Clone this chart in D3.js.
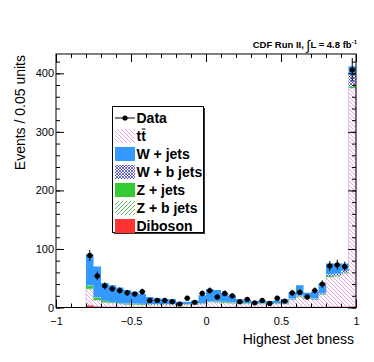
<!DOCTYPE html>
<meta charset="utf-8">
<html lang="en">
<head>
  <title>Highest Jet bness</title>
  <script src="https://d3js.org/d3.v7.min.js"></script>
  <style>
    body { margin: 0; background: #fff; }
    text { font-family: "Liberation Sans", Arial, Helvetica, sans-serif; }
  </style>
</head>
<body>
<div id="chart"></div>
<script>
// 40 bins of 0.05 from -1 to 1
var binLow = d3.range(40).map(function(i) { return -1 + 0.05 * i; });

// stacked MC components, bottom to top
var diboson = [0,0,0,0, 4,2,1.5,1,1,1,1,1,1,1,1,1,1,1,1,1, 1,1,1,1,1,1,1,1,1,1,1,1,1,1,1,1, 1.5,1.5,1.5,2];
var ttbar   = [0,0,0,0, 27,10,7,6,5,4,4,3.5,3,3,3,3,3,3,4,5, 8,7.5,7,6,5,5,4.5,4.5,4.5,5,4.5,12,17,14,12,21, 50,51,56,372];
var zbjets  = [0,0,0,0, 1,1,0.5,0.5,0.3,0.3,0.3,0.3,0.3,0.3,0.3,0.3,0.3,0.3,0.3,0.3, 0.3,0.3,0.3,0.3,0.3,0.3,0.3,0.3,0.3,0.3,0.3,0.3,0.3,0.3,0.3,0.3, 0.8,0.8,0.8,1];
var zjets   = [0,0,0,0, 5,4,2,1.5,1,1,1,1,1,1,1,1,1,1,1,1, 1,1,1,1,1,1,1,1,1,1,1,1,1,1,1,1, 1.5,1.5,1.5,2];
var wbjets  = [0,0,0,0, 1,1,0.5,0.5,0.5,0.5,0.5,0.5,0.5,0.5,0.5,0.5,0.5,0.5,0.5,0.5, 0.5,0.5,0.5,0.5,0.5,0.5,0.5,0.5,0.5,0.5,0.5,1,1,1,1,1, 3,3,3,21];
var wjets   = [0,0,0,0, 53,52,30.5,28.5,26.2,23.2,20.2,16.7,12.2,10.2,8.7,8.2,4.2,4.2,5.2,13.2, 20.2,19.7,14.2,11.2,6.2,5.2,3.7,4.2,3.7,4.2,6.7,10.7,17.7,7.7,11.7,16.7, 18.2,17.2,12.2,14];

// observed data
var dataCounts = [0,0,0,0, 89,54,37,32,29,25,23,27,12,12,12,10,6,16,9,24, 29,18,24,20,10,14,8,12,7,16,11,25,26,18,29,40, 71,73,70,406];

var xTicks = [-1, -0.5, 0, 0.5, 1];
var yTicks = [0, 100, 200, 300, 400];

var W = 374, H = 362;
var svg = d3.select("#chart").append("svg").attr("width", W).attr("height", H);

var x = d3.scaleLinear().domain([-1, 1]).range([56, 356]);
var y = d3.scaleLinear().domain([0, 433]).range([307.5, 54]);

// patterns
var defs = svg.append("defs");
function hatch(id, d, color, sw, size) {
  var p = defs.append("pattern").attr("id", id).attr("patternUnits", "userSpaceOnUse")
    .attr("width", size).attr("height", size);
  p.append("rect").attr("width", size).attr("height", size).attr("fill", "#fff");
  p.append("path").attr("d", d).attr("stroke", color).attr("stroke-width", sw).attr("fill", "none");
}
hatch("ttHatch", "M0,0 L4,4 M-1,3 L1,5 M3,-1 L5,1", "#dc8edc", 0.8, 4);
hatch("zbHatch", "M0,4 L4,0 M-1,1 L1,-1 M3,5 L5,3", "#33aa33", 0.8, 4);
hatch("wbHatch", "M0,0 L3,3 M0,3 L3,0", "#2a2ab0", 0.7, 3);

var layers = [
  {name: "Diboson", values: diboson, fill: "#ff3333"},
  {name: "ttbar", values: ttbar, fill: "url(#ttHatch)"},
  {name: "Z + b jets", values: zbjets, fill: "url(#zbHatch)"},
  {name: "Z + jets", values: zjets, fill: "#33cc33"},
  {name: "W + b jets", values: wbjets, fill: "url(#wbHatch)"},
  {name: "W + jets", values: wjets, fill: "#3399ff"}
];

var table = binLow.map(function(b, i) {
  var row = {lo: b};
  layers.forEach(function(l) { row[l.name] = l.values[i]; });
  return row;
});
var stacked = d3.stack().keys(layers.map(function(l) { return l.name; }))(table);

var area = d3.area().x(function(p) { return x(p.x); })
  .y0(function(p) { return y(p.y0); }).y1(function(p) { return y(p.y1); });

var plot = svg.append("g");
stacked.forEach(function(s, k) {
  var pts = [];
  s.forEach(function(d) {
    pts.push({x: d.data.lo, y0: d[0], y1: d[1]});
    pts.push({x: d.data.lo + 0.05, y0: d[0], y1: d[1]});
  });
  plot.append("path").attr("d", area(pts))
    .attr("fill", layers[k].fill)
    .attr("stroke", layers[k].name == "ttbar" ? "#d0a8d0" : "none")
    .attr("stroke-width", 0.6);
});

// data points with errors
var pts = binLow.map(function(b, i) { return {c: b + 0.025, n: dataCounts[i]}; })
  .filter(function(d) { return d.n > 0; });
var dg = svg.append("g");
dg.selectAll(".ev").data(pts).enter().append("line")
  .attr("x1", function(d) { return x(d.c); }).attr("x2", function(d) { return x(d.c); })
  .attr("y1", function(d) { return y(d.n - Math.sqrt(d.n)); })
  .attr("y2", function(d) { return y(d.n + Math.sqrt(d.n)); })
  .attr("stroke", "#000").attr("stroke-width", 1);
dg.selectAll(".eh").data(pts).enter().append("line")
  .attr("x1", function(d) { return x(d.c - 0.02); }).attr("x2", function(d) { return x(d.c + 0.02); })
  .attr("y1", function(d) { return y(d.n); }).attr("y2", function(d) { return y(d.n); })
  .attr("stroke", "#000").attr("stroke-width", 1);
dg.selectAll("circle").data(pts).enter().append("circle")
  .attr("cx", function(d) { return x(d.c); }).attr("cy", function(d) { return y(d.n); })
  .attr("r", 2.6).attr("fill", "#000");

// frame and axes (ticks inside)
svg.append("rect").attr("x", 56).attr("y", 54).attr("width", 300).attr("height", 253.5)
  .attr("fill", "none").attr("stroke", "#000").attr("stroke-width", 1);

function styleAxis(g) {
  g.select(".domain").remove();
  g.selectAll("line").attr("stroke", "#000");
  g.selectAll("text").attr("font-size", 11).attr("fill", "#000")
    .style("font-family", "'Liberation Sans', Arial, sans-serif");
}
var minorX = d3.range(-1, 1.0001, 0.1);
var minorY = d3.range(0, 433, 20);

svg.append("g").attr("transform", "translate(0,307.5)")
  .call(d3.axisBottom(x).tickValues(minorX).tickSize(-4).tickFormat("")).call(styleAxis);
svg.append("g").attr("transform", "translate(0,307.5)")
  .call(d3.axisBottom(x).tickValues(xTicks).tickSize(-8).tickPadding(10)
    .tickFormat(function(d) { return d3.format("")(d); })).call(styleAxis);
svg.append("g").attr("transform", "translate(0,54)")
  .call(d3.axisTop(x).tickValues(minorX).tickSize(-4).tickFormat("")).call(styleAxis);
svg.append("g").attr("transform", "translate(0,54)")
  .call(d3.axisTop(x).tickValues(xTicks).tickSize(-8).tickFormat("")).call(styleAxis);

svg.append("g").attr("transform", "translate(56,0)")
  .call(d3.axisLeft(y).tickValues(minorY).tickSize(-4).tickFormat("")).call(styleAxis);
svg.append("g").attr("transform", "translate(56,0)")
  .call(d3.axisLeft(y).tickValues(yTicks).tickSize(-8).tickPadding(2)).call(styleAxis);
svg.append("g").attr("transform", "translate(356,0)")
  .call(d3.axisRight(y).tickValues(minorY).tickSize(-4).tickFormat("")).call(styleAxis);
svg.append("g").attr("transform", "translate(356,0)")
  .call(d3.axisRight(y).tickValues(yTicks).tickSize(-8).tickFormat("")).call(styleAxis);

// axis titles
svg.append("text").attr("x", 354).attr("y", 344).attr("text-anchor", "end")
  .attr("font-size", 14).text("Highest Jet bness");
svg.append("text").attr("transform", "translate(25,55) rotate(-90)")
  .attr("text-anchor", "end").attr("font-size", 14).text("Events / 0.05 units");

// run label
var lab = svg.append("text").attr("x", 357).attr("y", 48).attr("text-anchor", "end")
  .attr("font-size", 9.5).attr("font-weight", "bold");
lab.append("tspan").text("CDF Run II, ");
lab.append("tspan").attr("font-size", 14).attr("font-weight", "normal").attr("dy", 1.5).text("\u222B");
lab.append("tspan").attr("dy", -1.5).text("L = 4.8 fb");
lab.append("tspan").attr("font-size", 6).attr("dy", -4).text("-1");

// legend
var lg = svg.append("g");
lg.append("rect").attr("x", 114).attr("y", 108).attr("width", 91).attr("height", 126).attr("fill", "#333");
lg.append("rect").attr("x", 112.5).attr("y", 106.5).attr("width", 91).attr("height", 126)
  .attr("fill", "#fff").attr("stroke", "#000").attr("stroke-width", 1);

var entries = [
  {label: "Data", fill: null},
  {label: "tt", fill: "url(#ttHatch)", bar: true},
  {label: "W + jets", fill: "#3399ff"},
  {label: "W + b jets", fill: "url(#wbHatch)"},
  {label: "Z + jets", fill: "#33cc33"},
  {label: "Z + b jets", fill: "url(#zbHatch)"},
  {label: "Diboson", fill: "#ff3333"}
];
entries.forEach(function(e, i) {
  var cy = 118 + i * 18;
  if (e.fill) {
    lg.append("rect").attr("x", 115).attr("y", cy - 7).attr("width", 20).attr("height", 14).attr("fill", e.fill);
  } else {
    lg.append("line").attr("x1", 115).attr("x2", 135).attr("y1", cy).attr("y2", cy).attr("stroke", "#000");
    lg.append("circle").attr("cx", 125).attr("cy", cy).attr("r", 2.6).attr("fill", "#000");
  }
  var t = lg.append("text").attr("x", 136.5).attr("y", cy + 5).attr("font-size", 14)
    .attr("font-weight", "bold").text(e.label);
  if (e.bar) {
    var w1 = t.node().getSubStringLength(0, 1), w2 = t.node().getSubStringLength(1, 1);
    lg.append("line").attr("x1", 136.5 + w1 + 0.5).attr("x2", 136.5 + w1 + w2 - 0.5)
      .attr("y1", cy - 7).attr("y2", cy - 7).attr("stroke", "#000").attr("stroke-width", 1);
  }
});
</script>
</body>
</html>
